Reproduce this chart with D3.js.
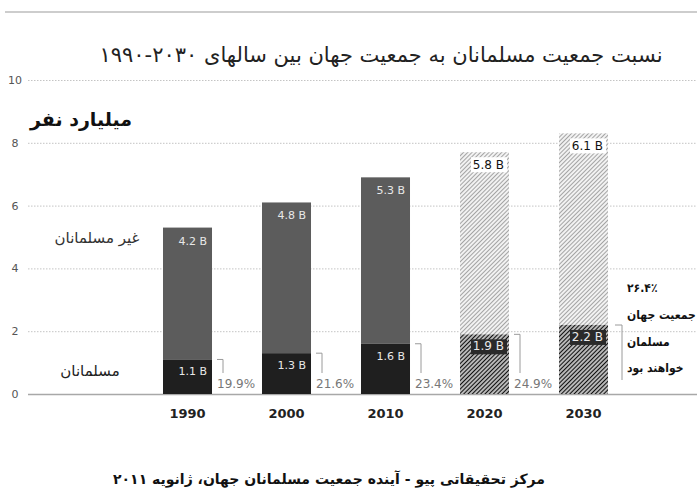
<!DOCTYPE html>
<meta charset="utf-8">
<head>
    <title>Muslim population share 1990-2030</title>
    <script src="https://d3js.org/d3.v7.min.js"></script>
    <style>
        body { margin: 0; background: #ffffff; }
        text { font-family: "DejaVu Sans", sans-serif; }
    </style>
</head>
<body>
<div id="my_dataviz"></div>
<script>

// data (billions of people)
var years = ["1990", "2000", "2010", "2020", "2030"];
var muslims = [1.1, 1.3, 1.6, 1.9, 2.2];
var nonMuslims = [4.2, 4.8, 5.3, 5.8, 6.1];
var shareLabels = ["19.9%", "21.6%", "23.4%", "24.9%", ""];
var projected = [false, false, false, true, true];
var yTicks = [0, 2, 4, 6, 8, 10];

var width = 697, height = 502;

var svg = d3.select("#my_dataviz")
    .append("svg")
    .attr("width", width)
    .attr("height", height);

// hatch patterns for the projected bars
var defs = svg.append("defs");
var light = defs.append("pattern")
    .attr("id", "hatchLight")
    .attr("patternUnits", "userSpaceOnUse")
    .attr("width", 3).attr("height", 3)
    .attr("patternTransform", "rotate(45)");
light.append("rect").attr("width", 3).attr("height", 3).attr("fill", "#f2f2f2");
light.append("line").attr("x1", 0).attr("y1", 0).attr("x2", 0).attr("y2", 3)
    .attr("stroke", "#7a7a7a").attr("stroke-width", 1.3);
var dark = defs.append("pattern")
    .attr("id", "hatchDark")
    .attr("patternUnits", "userSpaceOnUse")
    .attr("width", 3).attr("height", 3)
    .attr("patternTransform", "rotate(45)");
dark.append("rect").attr("width", 3).attr("height", 3).attr("fill", "#b8b8b8");
dark.append("line").attr("x1", 0).attr("y1", 0).attr("x2", 0).attr("y2", 3)
    .attr("stroke", "#111").attr("stroke-width", 2);

// scales
var x = d3.scaleBand()
    .domain(years)
    .range([138, 633])
    .paddingInner(0.505)
    .paddingOuter(0.2525);
var y = d3.scaleLinear()
    .domain([0, 10])
    .range([394, 80]);

// top rule
svg.append("line")
    .attr("x1", 5).attr("x2", width).attr("y1", 12).attr("y2", 12)
    .attr("stroke", "#bdbdbd").attr("stroke-width", 1.5);

// title (number kept left-to-right)
svg.append("text")
    .attr("x", 381).attr("y", 62)
    .attr("text-anchor", "middle")
    .attr("direction", "rtl")
    .style("font-size", "21px")
    .style("fill", "#222")
    .text("نسبت جمعیت مسلمانان به جمعیت جهان بین سالهای \u202A۱۹۹۰-۲۰۳۰\u202C");

// gridlines and y labels
var yAxis = d3.axisLeft(y)
    .tickValues(yTicks)
    .tickSize(-(width - 28))
    .tickPadding(8)
    .tickFormat(d3.format("d"));
var yg = svg.append("g")
    .attr("transform", "translate(28,0)")
    .call(yAxis);
yg.select(".domain").remove();
yg.selectAll(".tick line")
    .attr("stroke", function(d) { return d === 0 ? "#a8a8a8" : "#c4c4c4"; })
    .attr("stroke-width", function(d) { return d === 0 ? 1.5 : 1; })
    .attr("stroke-dasharray", function(d) { return d === 0 ? null : "1.5,1.5"; });
yg.selectAll(".tick text")
    .attr("text-anchor", "middle")
    .attr("x", -13)
    .style("font-size", "11px")
    .style("fill", "#555");

// unit label
svg.append("text")
    .attr("x", 81).attr("y", 126)
    .attr("text-anchor", "middle")
    .attr("direction", "rtl")
    .style("font-size", "19px")
    .style("font-weight", "bold")
    .style("fill", "#111")
    .text("میلیارد نفر");

// series labels at left
svg.append("text")
    .attr("x", 97).attr("y", 243)
    .attr("text-anchor", "middle")
    .attr("direction", "rtl")
    .style("font-size", "15px")
    .style("fill", "#333")
    .text("غیر مسلمانان");
svg.append("text")
    .attr("x", 90).attr("y", 376)
    .attr("text-anchor", "middle")
    .attr("direction", "rtl")
    .style("font-size", "15px")
    .style("fill", "#222")
    .text("مسلمانان");

var rows = years.map(function(yr, i) {
    return { year: yr, m: muslims[i], n: nonMuslims[i], share: shareLabels[i], proj: projected[i] };
});

var bars = svg.append("g").selectAll("g")
    .data(rows)
    .enter()
    .append("g");

// non-muslim segment
bars.append("rect")
    .attr("x", function(d) { return x(d.year); })
    .attr("width", x.bandwidth())
    .attr("y", function(d) { return y(d.m + d.n); })
    .attr("height", function(d) { return y(d.m) - y(d.m + d.n); })
    .attr("fill", function(d) { return d.proj ? "url(#hatchLight)" : "#5c5c5c"; });

// muslim segment
bars.append("rect")
    .attr("x", function(d) { return x(d.year); })
    .attr("width", x.bandwidth())
    .attr("y", function(d) { return y(d.m); })
    .attr("height", function(d) { return y(0) - y(d.m); })
    .attr("fill", function(d) { return d.proj ? "url(#hatchDark)" : "#1f1f1f"; });

// value label boxes for projected bars
bars.filter(function(d) { return d.proj; })
    .append("rect")
    .attr("x", function(d) { return x(d.year) + x.bandwidth() - 38; })
    .attr("y", function(d) { return y(d.m + d.n) + 5; })
    .attr("width", 36).attr("height", 15)
    .attr("fill", "#ffffff");
bars.filter(function(d) { return d.proj; })
    .append("rect")
    .attr("x", function(d) { return x(d.year) + x.bandwidth() - 38; })
    .attr("y", function(d) { return y(d.m) + 5; })
    .attr("width", 36).attr("height", 15)
    .attr("fill", "#2a2a2a");

// value labels
bars.append("text")
    .attr("x", function(d) { return x(d.year) + x.bandwidth() - 5; })
    .attr("y", function(d) { return y(d.m + d.n) + 17; })
    .attr("text-anchor", "end")
    .style("font-size", function(d) { return d.proj ? "12px" : "11px"; })
    .style("fill", function(d) { return d.proj ? "#111" : "#e8e8e8"; })
    .text(function(d) { return d.n.toFixed(1) + " B"; });
bars.append("text")
    .attr("x", function(d) { return x(d.year) + x.bandwidth() - 5; })
    .attr("y", function(d) { return y(d.m) + 16; })
    .attr("text-anchor", "end")
    .style("font-size", function(d) { return d.proj ? "12px" : "11px"; })
    .style("fill", "#e8e8e8")
    .text(function(d) { return d.m.toFixed(1) + " B"; });

// share brackets and percentages
var withShare = bars.filter(function(d) { return d.share !== ""; });
withShare.append("path")
    .attr("d", function(d) {
        var x0 = x(d.year) + x.bandwidth();
        return "M" + (x0 + 5) + "," + y(d.m) + "H" + (x0 + 11) + "V" + 373;
    })
    .attr("fill", "none")
    .attr("stroke", "#9a9a9a")
    .attr("stroke-width", 1);
withShare.append("text")
    .attr("x", function(d) { return x(d.year) + x.bandwidth() + 5; })
    .attr("y", 388)
    .style("font-size", "12px")
    .style("fill", "#777")
    .text(function(d) { return d.share; });

// x labels
svg.append("g").selectAll("text")
    .data(years)
    .enter()
    .append("text")
    .attr("x", function(d) { return x(d) + x.bandwidth() / 2; })
    .attr("y", 418)
    .attr("text-anchor", "middle")
    .style("font-size", "13px")
    .style("font-weight", "bold")
    .style("fill", "#222")
    .text(function(d) { return d; });

// 2030 annotation
svg.append("path")
    .attr("d", "M615,325H622V380")
    .attr("fill", "none")
    .attr("stroke", "#9a9a9a");
var note = ["۲۶.۴٪", "جمعیت جهان", "مسلمان", "خواهند بود"];
var noteY = [292, 319, 346, 372];
svg.append("g").selectAll("text")
    .data(note)
    .enter()
    .append("text")
    .attr("x", 627)
    .attr("y", function(d, i) { return noteY[i]; })
    .attr("text-anchor", "end")
    .attr("direction", "rtl")
    .style("font-family", "'DejaVu Sans Condensed', 'DejaVu Sans', sans-serif")
    .style("font-size", "12px")
    .style("font-weight", "bold")
    .style("fill", "#111")
    .text(function(d) { return d; });

// source
svg.append("text")
    .attr("x", 329).attr("y", 484)
    .attr("text-anchor", "middle")
    .attr("direction", "rtl")
    .style("font-size", "14px")
    .style("font-weight", "bold")
    .style("fill", "#111")
    .text("مرکز تحقیقاتی پیو - آینده جمعیت مسلمانان جهان، ژانویه ۲۰۱۱");

</script>
</body>
</html>
